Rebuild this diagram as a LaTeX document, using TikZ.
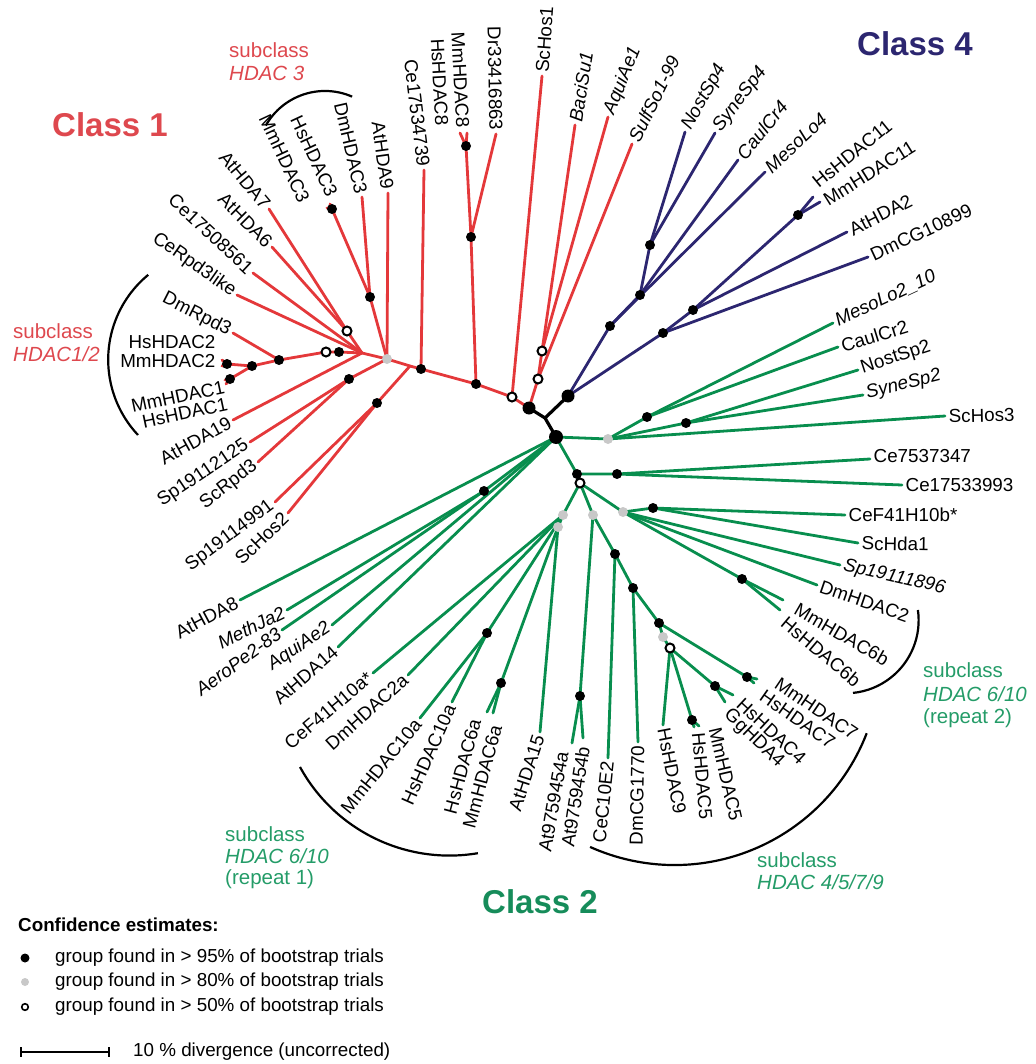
\documentclass[tikz,border=0pt]{standalone}
\usepackage{fontspec}
\setmainfont{Liberation Sans}
\definecolor{clsRed}{RGB}{228,56,58}
\definecolor{clsRedTxt}{RGB}{222,72,78}
\definecolor{clsBlue}{RGB}{44,38,112}
\definecolor{clsGreen}{RGB}{8,142,78}
\definecolor{clsGreenDk}{RGB}{22,140,90}
\definecolor{clsGreenTxt}{RGB}{36,156,104}
\definecolor{dotGrey}{RGB}{200,200,200}
\newcommand{\lblfont}{\fontsize{18.8}{21}\selectfont}
\newcommand{\subfont}{\fontsize{20.5}{23}\selectfont}
\newcommand{\clsfont}{\fontsize{33}{36}\selectfont\bfseries}
\tikzset{
  brRed/.style={draw=clsRed,line width=2.8pt,line cap=round},
  brBlue/.style={draw=clsBlue,line width=2.8pt,line cap=round},
  brGreen/.style={draw=clsGreen,line width=2.8pt,line cap=round},
  brRoot/.style={draw=black,line width=3.2pt,line cap=round},
  brk/.style={draw=black,line width=2.2pt},
  lblL/.style={anchor=east,inner sep=3.5pt,font=\lblfont},
  lblR/.style={anchor=west,inner sep=3.5pt,font=\lblfont},
  subRed/.style={anchor=west,inner sep=0pt,font=\subfont,text=clsRedTxt},
  subGreen/.style={anchor=west,inner sep=0pt,font=\subfont,text=clsGreenTxt},
  clsTitle/.style={inner sep=0pt,font=\clsfont},
  dotB/.style={fill=black},
  dotG/.style={fill=dotGrey},
  dotO/.style={fill=white,draw=black,line width=2pt},
}
\begin{document}
\begin{tikzpicture}[x=1pt,y=-1pt]
\useasboundingbox (0,0) rectangle (1035,1064);
% centre
\coordinate (c1) at (529,408);
\coordinate (c0) at (545,418);
\coordinate (g0) at (556,437);
\coordinate (b4) at (568,396);
% class 1
\coordinate (rO1) at (512,397);
\coordinate (rB1) at (476,384);
\coordinate (rB2) at (421,369);
\coordinate (rJ1) at (410,366);
\coordinate (rGr) at (387,359);
\coordinate (rO2) at (538,379);
\coordinate (rO3) at (542,351);
\coordinate (rB8) at (471,237);
\coordinate (rB8b) at (466,146);
\coordinate (rB3) at (370,297);
\coordinate (rB3b) at (332,209);
\coordinate (rL) at (362,353);
\coordinate (rO4) at (347,331);
\coordinate (rB5) at (339,352);
\coordinate (rO5) at (326,352);
\coordinate (rB6) at (279,360);
\coordinate (rB7) at (252,366);
\coordinate (rB7a) at (227,364);
\coordinate (rB7b) at (230,379);
\coordinate (rB9) at (349,379);
\coordinate (rB10) at (377,403);
\coordinate (tScHosA) at (542,76);
\coordinate (tBaciSu) at (575,125);
\coordinate (tAquiAeA) at (608,117);
\coordinate (tSulfSo) at (632,144);
\coordinate (tDr) at (496,134);
\coordinate (tMm8) at (467,133);
\coordinate (tHs8) at (460,133);
\coordinate (tCeA) at (424,170);
\coordinate (tAtHDA9) at (388,193);
\coordinate (tDm3) at (362,197);
\coordinate (tHs3) at (330,204);
\coordinate (tMm3) at (327,208);
\coordinate (tAtHDA7) at (269,209);
\coordinate (tAtHDA6) at (272,247);
\coordinate (tCeB) at (253,273);
\coordinate (tCeRpd) at (237,295);
\coordinate (tDmRpd) at (233,333);
\coordinate (tHs2) at (222,360);
\coordinate (tMm2) at (222,366);
\coordinate (tMm1) at (225,380);
\coordinate (tHs1) at (226,384);
\coordinate (tAtHDA19) at (233,420);
\coordinate (tSpA) at (250,442);
\coordinate (tScRpd) at (258,462);
\coordinate (tSpB) at (275,502);
\coordinate (tScHosB) at (288,513);
% class 4
\coordinate (k1) at (610,326);
\coordinate (k2) at (640,295);
\coordinate (k3) at (650,245);
\coordinate (k4) at (663,333);
\coordinate (k5) at (693,310);
\coordinate (k6) at (798,215);
\coordinate (tNost4) at (685,132);
\coordinate (tSyne4) at (715,133);
\coordinate (tCaul4) at (738,160);
\coordinate (tMeso4) at (765,172);
\coordinate (tHs11) at (813,197);
\coordinate (tMm11) at (820,202);
\coordinate (tAtHDA2) at (847,232);
\coordinate (tDmCG) at (868,257);
% class 2
\coordinate (gG1) at (608,439);
\coordinate (gB1) at (647,417);
\coordinate (gB2) at (686,423);
\coordinate (gB3) at (577,474);
\coordinate (gB4) at (617,474);
\coordinate (gO1) at (580,483);
\coordinate (gG2) at (623,512);
\coordinate (gB5) at (653,508);
\coordinate (gB6) at (742,579);
\coordinate (gG3) at (593,515);
\coordinate (gB7) at (615,554);
\coordinate (gB8) at (633,588);
\coordinate (gB9) at (659,623);
\coordinate (gB10) at (747,677);
\coordinate (gG4) at (663,637);
\coordinate (gO2) at (670,648);
\coordinate (gB11) at (692,720);
\coordinate (gB12) at (715,686);
\coordinate (gB13) at (580,696);
\coordinate (gG5) at (563,515);
\coordinate (gG6) at (558,527);
\coordinate (gB14) at (501,683);
\coordinate (gB15) at (484,491);
\coordinate (gB16) at (487,633);
\coordinate (tMesoLoB) at (833,323);
\coordinate (tCaulCrB) at (838,347);
\coordinate (tNostB) at (858,370);
\coordinate (tSyneB) at (863,395);
\coordinate (tScHosC) at (945,416);
\coordinate (tCeC) at (870,459);
\coordinate (tCeD) at (902,485);
\coordinate (tCeFb) at (845,515);
\coordinate (tScHda) at (858,543);
\coordinate (tSpC) at (840,565);
\coordinate (tDm2) at (817,585);
\coordinate (tMm6b) at (783,600);
\coordinate (tHs6b) at (780,610);
\coordinate (tMm7) at (757,679);
\coordinate (tHs7) at (754,683);
\coordinate (tHs4) at (733,695);
\coordinate (tGg4) at (725,702);
\coordinate (tMm5) at (699,726);
\coordinate (tHs5) at (694,727);
\coordinate (tHs9) at (663,725);
\coordinate (tDmCGb) at (638,742);
\coordinate (tCeC10) at (608,758);
\coordinate (tAtb) at (583,738);
\coordinate (tAta) at (572,743);
\coordinate (tAtHDA15) at (540,732);
\coordinate (tMm6a) at (493,713);
\coordinate (tHs6a) at (487,712);
\coordinate (tHs10a) at (452,702);
\coordinate (tMm10a) at (420,718);
\coordinate (tDm2a) at (408,675);
\coordinate (tCeFa) at (373,673);
\coordinate (tAtHDA14) at (338,647);
\coordinate (tAquiAeB) at (332,625);
\coordinate (tAeroPe) at (282,630);
\coordinate (tMethJa) at (287,610);
\coordinate (tAtHDA8) at (240,600);

% branches
\draw[brRed] (c1) -- (rO1) -- (rB1) -- (rB2) -- (rJ1) -- (rGr);
\draw[brRed] (rO1) -- (tScHosA);
\draw[brRed] (c1) -- (rO2) -- (rO3) -- (tBaciSu);
\draw[brRed] (rO3) -- (tAquiAeA);
\draw[brRed] (rO2) -- (tSulfSo);
\draw[brRed] (rB1) -- (rB8) -- (rB8b) -- (tMm8);
\draw[brRed] (rB8b) -- (tHs8);
\draw[brRed] (rB8) -- (tDr);
\draw[brRed] (rB2) -- (tCeA);
\draw[brRed] (rJ1) -- (rB10) -- (tSpB);
\draw[brRed] (rB10) -- (tScHosB);
\draw[brRed] (rGr) -- (tAtHDA9);
\draw[brRed] (rGr) -- (rB3) -- (tDm3);
\draw[brRed] (rB3) -- (rB3b) -- (tHs3);
\draw[brRed] (rB3b) -- (tMm3);
\draw[brRed] (rGr) -- (rL) -- (rO4) -- (tAtHDA7);
\draw[brRed] (rO4) -- (tAtHDA6);
\draw[brRed] (rL) -- (tCeB);
\draw[brRed] (rL) -- (tCeRpd);
\draw[brRed] (rL) -- (rB5) -- (rO5) -- (rB6) -- (rB7) -- (rB7a) -- (tHs2);
\draw[brRed] (rB7a) -- (tMm2);
\draw[brRed] (rB7) -- (rB7b) -- (tMm1);
\draw[brRed] (rB7b) -- (tHs1);
\draw[brRed] (rB6) -- (tDmRpd);
\draw[brRed] (rL) -- (tAtHDA19);
\draw[brRed] (rGr) -- (rB9) -- (tSpA);
\draw[brRed] (rB9) -- (tScRpd);
\draw[brBlue] (b4) -- (k1) -- (k2) -- (k3) -- (tNost4);
\draw[brBlue] (k3) -- (tSyne4);
\draw[brBlue] (k2) -- (tCaul4);
\draw[brBlue] (k1) -- (tMeso4);
\draw[brBlue] (b4) -- (k4) -- (k5) -- (k6) -- (tHs11);
\draw[brBlue] (k6) -- (tMm11);
\draw[brBlue] (k5) -- (tAtHDA2);
\draw[brBlue] (k4) -- (tDmCG);
\draw[brGreen] (g0) -- (gG1) -- (gB1) -- (tMesoLoB);
\draw[brGreen] (gB1) -- (tCaulCrB);
\draw[brGreen] (gG1) -- (gB2) -- (tNostB);
\draw[brGreen] (gB2) -- (tSyneB);
\draw[brGreen] (gG1) -- (tScHosC);
\draw[brGreen] (g0) -- (gB3) -- (gB4) -- (tCeC);
\draw[brGreen] (gB4) -- (tCeD);
\draw[brGreen] (gB3) -- (gO1) -- (gG2) -- (gB5) -- (tCeFb);
\draw[brGreen] (gB5) -- (tScHda);
\draw[brGreen] (gG2) -- (tSpC);
\draw[brGreen] (gG2) -- (tDm2);
\draw[brGreen] (gG2) -- (gB6) -- (tMm6b);
\draw[brGreen] (gB6) -- (tHs6b);
\draw[brGreen] (gO1) -- (gG3) -- (gB7) -- (gB8) -- (gB9) -- (gB10) -- (tMm7);
\draw[brGreen] (gB10) -- (tHs7);
\draw[brGreen] (gB7) -- (tCeC10);
\draw[brGreen] (gB8) -- (tDmCGb);
\draw[brGreen] (gB9) -- (gG4) -- (gO2) -- (tHs9);
\draw[brGreen] (gO2) -- (gB11) -- (tMm5);
\draw[brGreen] (gB11) -- (tHs5);
\draw[brGreen] (gO2) -- (gB12) -- (tHs4);
\draw[brGreen] (gB12) -- (tGg4);
\draw[brGreen] (gG3) -- (gB13) -- (tAta);
\draw[brGreen] (gB13) -- (tAtb);
\draw[brGreen] (gO1) -- (gG5) -- (gG6) -- (tAtHDA15);
\draw[brGreen] (gG6) -- (gB14) -- (tHs6a);
\draw[brGreen] (gB14) -- (tMm6a);
\draw[brGreen] (gG5) -- (gB16) -- (tHs10a);
\draw[brGreen] (gB16) -- (tMm10a);
\draw[brGreen] (gG5) -- (tDm2a);
\draw[brGreen] (gG5) -- (tCeFa);
\draw[brGreen] (g0) -- (tAtHDA14);
\draw[brGreen] (g0) -- (tAquiAeB);
\draw[brGreen] (g0) -- (gB15) -- (tMethJa);
\draw[brGreen] (gB15) -- (tAeroPe);
\draw[brGreen] (g0) -- (tAtHDA8);
\draw[brRoot] (c1) -- (c0) -- (g0);
\draw[brRoot] (c0) -- (b4);

% bootstrap dots
\fill[dotB] (c1) circle (6.5);
\fill[dotB] (g0) circle (7);
\fill[dotB] (b4) circle (6.5);
\fill[dotB] (rB1) circle (5);
\fill[dotB] (rB2) circle (5);
\fill[dotB] (rB3) circle (5);
\fill[dotB] (rB3b) circle (5);
\fill[dotB] (rB5) circle (5);
\fill[dotB] (rB6) circle (5);
\fill[dotB] (rB7) circle (5);
\fill[dotB] (rB7a) circle (5);
\fill[dotB] (rB7b) circle (5);
\fill[dotB] (rB8) circle (5);
\fill[dotB] (rB8b) circle (5);
\fill[dotB] (rB9) circle (5);
\fill[dotB] (rB10) circle (5);
\fill[dotB] (k1) circle (5);
\fill[dotB] (k2) circle (5);
\fill[dotB] (k3) circle (5);
\fill[dotB] (k4) circle (5);
\fill[dotB] (k5) circle (5);
\fill[dotB] (k6) circle (5);
\fill[dotB] (gB1) circle (5);
\fill[dotB] (gB2) circle (5);
\fill[dotB] (gB3) circle (5);
\fill[dotB] (gB4) circle (5);
\fill[dotB] (gB5) circle (5);
\fill[dotB] (gB6) circle (5);
\fill[dotB] (gB7) circle (5);
\fill[dotB] (gB8) circle (5);
\fill[dotB] (gB9) circle (5);
\fill[dotB] (gB10) circle (5);
\fill[dotB] (gB11) circle (5);
\fill[dotB] (gB12) circle (5);
\fill[dotB] (gB13) circle (5);
\fill[dotB] (gB14) circle (5);
\fill[dotB] (gB15) circle (5);
\fill[dotB] (gB16) circle (5);
\fill[dotG] (rGr) circle (5);
\fill[dotG] (gG1) circle (5);
\fill[dotG] (gG2) circle (5);
\fill[dotG] (gG3) circle (5);
\fill[dotG] (gG4) circle (5);
\fill[dotG] (gG5) circle (5);
\fill[dotG] (gG6) circle (5);
\path[dotO] (rO1) circle (4.5);
\path[dotO] (rO2) circle (4.5);
\path[dotO] (rO3) circle (4.5);
\path[dotO] (rO4) circle (4.5);
\path[dotO] (rO5) circle (4.5);
\path[dotO] (gO1) circle (4.5);
\path[dotO] (gO2) circle (4.5);

% leaf labels
\node[lblL,rotate=-50] (nAtHDA7) at (tAtHDA7) {AtHDA7};
\node[lblL,rotate=-45] (nAtHDA6) at (tAtHDA6) {AtHDA6};
\node[lblL,rotate=-43] (nCeB) at (tCeB) {Ce17508561};
\node[lblL,rotate=-35] (nCeRpd) at (tCeRpd) {CeRpd3like};
\node[lblL,rotate=-27] (nDmRpd) at (tDmRpd) {DmRpd3};
\node[lblL] (nHs2) at (219,342) {HsHDAC2};
\node[lblL] (nMm2) at (219,361) {MmHDAC2};
\node[lblL,rotate=12] (nMm1) at (228,386) {MmHDAC1};
\node[lblL,rotate=12] (nHs1) at (231,403) {HsHDAC1};
\node[lblL,rotate=29] (nAtHDA19) at (tAtHDA19) {AtHDA19};
\node[lblL,rotate=34] (nSpA) at (tSpA) {Sp19112125};
\node[lblL,rotate=38] (nScRpd) at (tScRpd) {ScRpd3};
\node[lblL,rotate=37] (nSpB) at (tSpB) {Sp19114991};
\node[lblL,rotate=44] (nScHosB) at (tScHosB) {ScHos2};
\node[lblL,rotate=-65] (nMm3) at (306,205) {MmHDAC3};
\node[lblL,rotate=-65] (nHs3) at (334,199) {HsHDAC3};
\node[lblL,rotate=-77] (nDm3) at (tDm3) {DmHDAC3};
\node[lblL,rotate=-82] (nAtHDA9) at (tAtHDA9) {AtHDA9};
\node[lblL,rotate=-83] (nCeA) at (tCeA) {Ce17534739};
\node[lblL,rotate=-87] (nHs8) at (442,129) {HsHDAC8};
\node[lblL,rotate=-87] (nMm8) at (463,131) {MmHDAC8};
\node[lblL,rotate=-89] (nDr) at (tDr) {Dr33416863};
\node[lblR,rotate=86] (nScHosA) at (tScHosA) {ScHos1};
\node[lblR,rotate=81] (nBaciSu) at (tBaciSu) {\textit{BaciSu1}};
\node[lblR,rotate=68] (nAquiAeA) at (tAquiAeA) {\textit{AquiAe1}};
\node[lblR,rotate=64] (nSulfSo) at (tSulfSo) {\textit{SulfSo1-99}};
\node[lblR,rotate=61] (nNost4) at (tNost4) {\textit{NostSp4}};
\node[lblR,rotate=53] (nSyne4) at (tSyne4) {\textit{SyneSp4}};
\node[lblR,rotate=51] (nCaul4) at (tCaul4) {\textit{CaulCr4}};
\node[lblR,rotate=43] (nMeso4) at (tMeso4) {\textit{MesoLo4}};
\node[lblR,rotate=39] (nHs11) at (812,186) {HsHDAC11};
\node[lblR,rotate=32] (nMm11) at (822,203) {MmHDAC11};
\node[lblR,rotate=27] (nAtHDA2) at (tAtHDA2) {AtHDA2};
\node[lblR,rotate=25] (nDmCG) at (tDmCG) {DmCG10899};
\node[lblR,rotate=25] (nMesoLoB) at (tMesoLoB) {\textit{MesoLo2\_10}};
\node[lblR,rotate=17] (nCaulCrB) at (tCaulCrB) {CaulCr2};
\node[lblR,rotate=18] (nNostB) at (tNostB) {NostSp2};
\node[lblR,rotate=14] (nSyneB) at (tSyneB) {\textit{SyneSp2}};
\node[lblR,rotate=1] (nScHosC) at (tScHosC) {ScHos3};
\node[lblR] (nCeC) at (870,456) {Ce7537347};
\node[lblR] (nCeD) at (tCeD) {Ce17533993};
\node[lblR] (nCeFb) at (tCeFb) {CeF41H10b*};
\node[lblR,rotate=-1] (nScHda) at (tScHda) {ScHda1};
\node[lblR,rotate=-13] (nSpC) at (tSpC) {\textit{Sp19111896}};
\node[lblR,rotate=-19] (nDm2) at (tDm2) {DmHDAC2};
\node[lblR,rotate=-30] (nMm6b) at (793,606) {MmHDAC6b};
\node[lblR,rotate=-40] (nHs6b) at (781,618) {HsHDAC6b};
\node[lblR,rotate=-34] (nMm7) at (774,680) {MmHDAC7};
\node[lblR,rotate=-35] (nHs7) at (759,692) {HsHDAC7};
\node[lblR,rotate=-43] (nHs4) at (737,699) {HsHDAC4};
\node[lblR,rotate=-44] (nGg4) at (724,710) {GgHDA4};
\node[lblR,rotate=-77] (nMm5) at (714,724) {MmHDAC5};
\node[lblR,rotate=-85] (nHs5) at (698,729) {HsHDAC5};
\node[lblR,rotate=-79] (nHs9) at (tHs9) {HsHDAC9};
\node[lblL,rotate=89] (nDmCGb) at (tDmCGb) {DmCG1770};
\node[lblL,rotate=84] (nCeC10) at (tCeC10) {CeC10E2};
\node[lblL,rotate=81] (nAtb) at (584,743) {At9759454b};
\node[lblL,rotate=80] (nAta) at (563,748) {At9759454a};
\node[lblL,rotate=72] (nAtHDA15) at (tAtHDA15) {AtHDA15};
\node[lblL,rotate=75] (nMm6a) at (497,722) {MmHDAC6a};
\node[lblL,rotate=75] (nHs6a) at (476,716) {HsHDAC6a};
\node[lblL,rotate=66] (nHs10a) at (tHs10a) {HsHDAC10a};
\node[lblL,rotate=51] (nMm10a) at (tMm10a) {MmHDAC10a};
\node[lblL,rotate=42] (nDm2a) at (tDm2a) {DmHDAC2a};
\node[lblL,rotate=40] (nCeFa) at (tCeFa) {CeF41H10a*};
\node[lblL,rotate=41] (nAtHDA14) at (tAtHDA14) {AtHDA14};
\node[lblL,rotate=34] (nAquiAeB) at (tAquiAeB) {\textit{AquiAe2}};
\node[lblL,rotate=36] (nAeroPe) at (tAeroPe) {\textit{AeroPe2-83}};
\node[lblL,rotate=26] (nMethJa) at (tMethJa) {\textit{MethJa2}};
\node[lblL,rotate=28] (nAtHDA8) at (tAtHDA8) {AtHDA8};

% subclass brackets
\coordinate (bk12) at (138,435);
\draw[brk] (bk12) arc[start angle=136.8, end angle=230.5, radius=110];
\coordinate (bk3) at (265.8,125.5);
\draw[brk] (bk3) arc[start angle=209.5, end angle=293.5, radius=68];
\coordinate (bkR2) at (917.9,610);
\draw[brk] (bkR2) arc[start angle=-8.1, end angle=84.2, radius=73];
\coordinate (bk4579) at (866.7,733.2);
\draw[brk] (bk4579) arc[start angle=21.1, end angle=114.2, radius=206];
\coordinate (bkR1) at (300,767);
\draw[brk] (bkR1) arc[start angle=151.3, end angle=80.4, radius=170.4];

% class and subclass titles
\node[clsTitle,text=clsRedTxt] (cls1) at (110,125) {Class 1};
\node[clsTitle,text=clsBlue] (cls4) at (915,44) {Class 4};
\node[clsTitle,text=clsGreenDk] (cls2) at (540,902) {Class 2};
\node[subRed] (s3a) at (229,50) {subclass};
\node[subRed] (s3b) at (229,73) {\textit{HDAC 3}};
\node[subRed] (s12a) at (13,331) {subclass};
\node[subRed] (s12b) at (13,354) {\textit{HDAC1/2}};
\node[subGreen] (sr1a) at (225,834) {subclass};
\node[subGreen] (sr1b) at (225,856) {\textit{HDAC 6/10}};
\node[subGreen] (sr1c) at (225,879) {(repeat 1)};
\node[subGreen] (sr2a) at (923,670) {subclass};
\node[subGreen] (sr2b) at (923,694) {\textit{HDAC 6/10}};
\node[subGreen] (sr2c) at (923,718) {(repeat 2)};
\node[subGreen] (s47a) at (757,860) {subclass};
\node[subGreen] (s47b) at (757,882) {\textit{HDAC 4/5/7/9}};

% legend
\node[anchor=west,inner sep=0pt,font=\lblfont\bfseries] (lgHead) at (18,925) {Confidence estimates:};
\fill[dotB] (25,958) circle (4.5);
\fill[dotG] (25,982) circle (4);
\path[dotO,line width=1.6pt] (25,1007) circle (3.3);
\node[anchor=west,inner sep=0pt,font=\lblfont] (lg95) at (55,958) {group found in > 95\% of bootstrap trials};
\node[anchor=west,inner sep=0pt,font=\lblfont] (lg80) at (55,982) {group found in > 80\% of bootstrap trials};
\node[anchor=west,inner sep=0pt,font=\lblfont] (lg50) at (55,1007) {group found in > 50\% of bootstrap trials};
\coordinate (sbL) at (20,1052);
\coordinate (sbR) at (110,1052);
\draw[line width=1.6pt,|-|] (sbL) -- (sbR);
\node[anchor=west,inner sep=0pt,font=\lblfont] (lgBar) at (133,1052) {10 \% divergence (uncorrected)};
\end{tikzpicture}
\end{document}
